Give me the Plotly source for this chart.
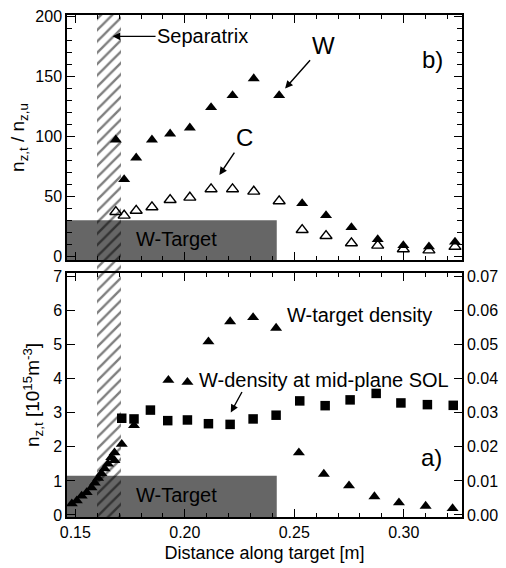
import plotly.graph_objects as go

# ---------------- data ----------------
# panel b) : ratio target / upstream
pos_b = [0.1685, 0.1723, 0.1778, 0.1850, 0.1933, 0.2023, 0.2120, 0.2218, 0.2315,
         0.2431, 0.2536, 0.2645, 0.2761, 0.2881, 0.2998, 0.3115, 0.3234]
w_ratio = [97, 64, 82, 97, 102, 107, 124, 134, 148, 134, 44, 34, 24, 14, 9, 8, 12]
c_ratio = [37, 34, 38, 41, 47, 49, 56, 56, 54, 46, 22, 17, 11, 9, 6, 5, 8]

# panel a) : W target density (left axis, 1e15 m^-3)
target_pos = [0.1484, 0.1507, 0.1529, 0.1552, 0.1574, 0.1589, 0.1604, 0.1619, 0.1634,
              0.1649, 0.1664, 0.1679, 0.1679, 0.1712, 0.1768, 0.1925, 0.2012, 0.2108,
              0.2207, 0.2312, 0.2417, 0.2521, 0.2635, 0.2750, 0.2866, 0.2978, 0.3100,
              0.3223]
target_dens = [0.33, 0.42, 0.56, 0.66, 0.80, 0.94, 1.08, 1.22, 1.36,
               1.50, 1.69, 1.83, 1.60, 2.08, 2.63, 3.96, 3.90, 5.09,
               5.68, 5.80, 5.49, 1.83, 1.20, 0.86, 0.54, 0.36, 0.26,
               0.19]

# panel a) : W density at mid-plane SOL (right axis)
mid_pos = [0.1712, 0.1768, 0.1843, 0.1922, 0.2012, 0.2108, 0.2207, 0.2312,
           0.2417, 0.2525, 0.2641, 0.2755, 0.2874, 0.2987, 0.3108, 0.3226]
mid_dens = [0.0284, 0.0282, 0.0308, 0.0277, 0.0279, 0.0268, 0.0266, 0.0282,
            0.0293, 0.0335, 0.0321, 0.0338, 0.0357, 0.0329, 0.0324, 0.0322]

# regions
separatrix_x = [0.1600, 0.1710]
w_target_x = [0.1462, 0.2420]
w_target_top_b = 30
w_target_top_a = 1.15

x_ticks = [0.15, 0.20, 0.25, 0.30]
x_tick_text = ["0.15", "0.20", "0.25", "0.30"]
yb_ticks = [0, 50, 100, 150, 200]
ya_ticks = [0, 1, 2, 3, 4, 5, 6, 7]
yr_ticks = [0.00, 0.01, 0.02, 0.03, 0.04, 0.05, 0.06, 0.07]

X_RANGE = [0.1462, 0.3266]
YB_RANGE = [-3.2, 201]
YA_RANGE = [-0.06, 7.11]

FONT = "Liberation Sans, Arial, sans-serif"

fig = go.Figure()

# panel b traces
fig.add_trace(go.Scatter(x=pos_b, y=w_ratio, mode="markers", xaxis="x", yaxis="y",
                         marker=dict(symbol="triangle-up", size=10.5, color="black"),
                         showlegend=False))
fig.add_trace(go.Scatter(x=pos_b, y=c_ratio, mode="markers", xaxis="x", yaxis="y",
                         marker=dict(symbol="triangle-up-open", size=10.5, color="black",
                                     line=dict(width=1.4, color="black")),
                         showlegend=False))
# panel a traces
fig.add_trace(go.Scatter(x=target_pos, y=target_dens, mode="markers", xaxis="x2", yaxis="y2",
                         marker=dict(symbol="triangle-up", size=10.5, color="black"),
                         showlegend=False))
fig.add_trace(go.Scatter(x=mid_pos, y=mid_dens, mode="markers", xaxis="x2", yaxis="y3",
                         marker=dict(symbol="square", size=9.5, color="black"),
                         showlegend=False))

# hatched separatrix band over both panels
fig.add_trace(go.Bar(x=[(separatrix_x[0] + separatrix_x[1]) / 2], y=[1], base=[0],
                     width=[separatrix_x[1] - separatrix_x[0]],
                     xaxis="x3", yaxis="y4",
                     marker=dict(color="black", line=dict(width=0),
                                 pattern=dict(shape="/", size=8, solidity=0.3,
                                              fgcolor="black", bgcolor="rgba(0,0,0,0)")),
                     showlegend=False, hoverinfo="skip"))

# W-target boxes
GRAY = "#666666"
fig.add_shape(type="rect", xref="x", yref="y", x0=w_target_x[0] - 0.001, x1=w_target_x[1],
              y0=YB_RANGE[0], y1=w_target_top_b, fillcolor=GRAY, line=dict(width=0), layer="below")
fig.add_shape(type="rect", xref="x2", yref="y2", x0=w_target_x[0] - 0.001, x1=w_target_x[1],
              y0=YA_RANGE[0], y1=w_target_top_a, fillcolor=GRAY, line=dict(width=0), layer="below")

axis_common = dict(showline=True, linecolor="black", linewidth=1.5, ticks="inside",
                   tickcolor="black", tickwidth=1.3, mirror="ticks",
                   tickfont=dict(family=FONT, size=16, color="black"), showgrid=False,
                   zeroline=False)

fig.update_layout(
    width=506, height=568,
    margin=dict(l=67, r=38, t=8, b=48),
    paper_bgcolor="white", plot_bgcolor="rgba(0,0,0,0)",
    font=dict(family=FONT, color="black"),
    bargap=0,
    xaxis=dict(domain=[0, 1], anchor="y", range=X_RANGE, tickvals=x_ticks,
               showticklabels=False, ticklen=8,
               minor=dict(dtick=0.01, ticklen=4, tickcolor="black", ticks="inside"),
               **axis_common),
    yaxis=dict(domain=[0.5117, 1.0], anchor="x", range=YB_RANGE, tickvals=yb_ticks,
               ticklen=8,
               minor=dict(dtick=10, ticklen=5, tickcolor="black", ticks="inside"),
               title=dict(text="n<sub>z,t</sub> / n<sub>z,u</sub>",
                          font=dict(family=FONT, size=19), standoff=6),
               **axis_common),
    xaxis2=dict(domain=[0, 1], anchor="y2", range=X_RANGE, tickvals=x_ticks,
                ticktext=x_tick_text, ticklen=8,
                minor=dict(dtick=0.01, ticklen=4, tickcolor="black", ticks="inside"),
                title=dict(text="Distance along target [m]",
                           font=dict(family=FONT, size=18), standoff=6),
                **axis_common),
    yaxis2=dict(domain=[0, 0.4863], anchor="x2", range=YA_RANGE, tickvals=ya_ticks,
                ticklen=8,
                title=dict(text="n<sub>z,t</sub> [10<sup>15</sup>m<sup>-3</sup>]",
                           font=dict(family=FONT, size=19), standoff=8),
                **{k: v for k, v in axis_common.items() if k != "mirror"}),
    yaxis3=dict(overlaying="y2", anchor="x2", side="right", range=[v / 100 for v in YA_RANGE],
                tickvals=yr_ticks, tickformat=".2f", ticklen=8,
                **{k: v for k, v in axis_common.items() if k != "mirror"}),
    xaxis3=dict(domain=[0, 1], anchor="y4", range=X_RANGE, visible=False),
    yaxis4=dict(domain=[0, 1], anchor="x3", range=[0, 1], visible=False),
)

ann_font = dict(family=FONT, size=20, color="black")
big_font = dict(family=FONT, size=24, color="black")
arrow = dict(showarrow=True, arrowhead=2, arrowsize=1.1, arrowwidth=1.4, arrowcolor="black",
             axref="pixel", ayref="pixel")

# panel b annotations (text placed at arrow tail)
fig.add_annotation(x=0.1670, y=183.2, xref="x", yref="y", text="Separatrix", font=ann_font,
                   ax=90, ay=0, **arrow)
fig.add_annotation(x=0.2458, y=139.8, xref="x", yref="y", text="W", font=big_font,
                   ax=38, ay=-43, **arrow)
fig.add_annotation(x=0.2158, y=67.8, xref="x", yref="y", text="C", font=big_font,
                   ax=25, ay=-37, **arrow)
fig.add_annotation(x=0.3133, y=163.8, xref="x", yref="y", text="b)", showarrow=False, font=big_font)
fig.add_annotation(x=0.1963, y=14.4, xref="x", yref="y", text="W-Target", showarrow=False,
                   font=ann_font)

# panel a annotations
fig.add_annotation(x=0.2798, y=5.86, xref="x2", yref="y2", text="W-target density",
                   showarrow=False, font=ann_font)
fig.add_annotation(x=0.2635, y=3.97, xref="x2", yref="y2", text="W-density at mid-plane SOL",
                   showarrow=False, font=ann_font)
fig.add_annotation(x=0.2210, y=3.01, xref="x2", yref="y2", text="", ax=12, ay=-22, **arrow)
fig.add_annotation(x=0.3126, y=1.69, xref="x2", yref="y2", text="a)", showarrow=False, font=big_font)
fig.add_annotation(x=0.1963, y=0.58, xref="x2", yref="y2", text="W-Target", showarrow=False,
                   font=ann_font)

fig.write_html("out.html")
